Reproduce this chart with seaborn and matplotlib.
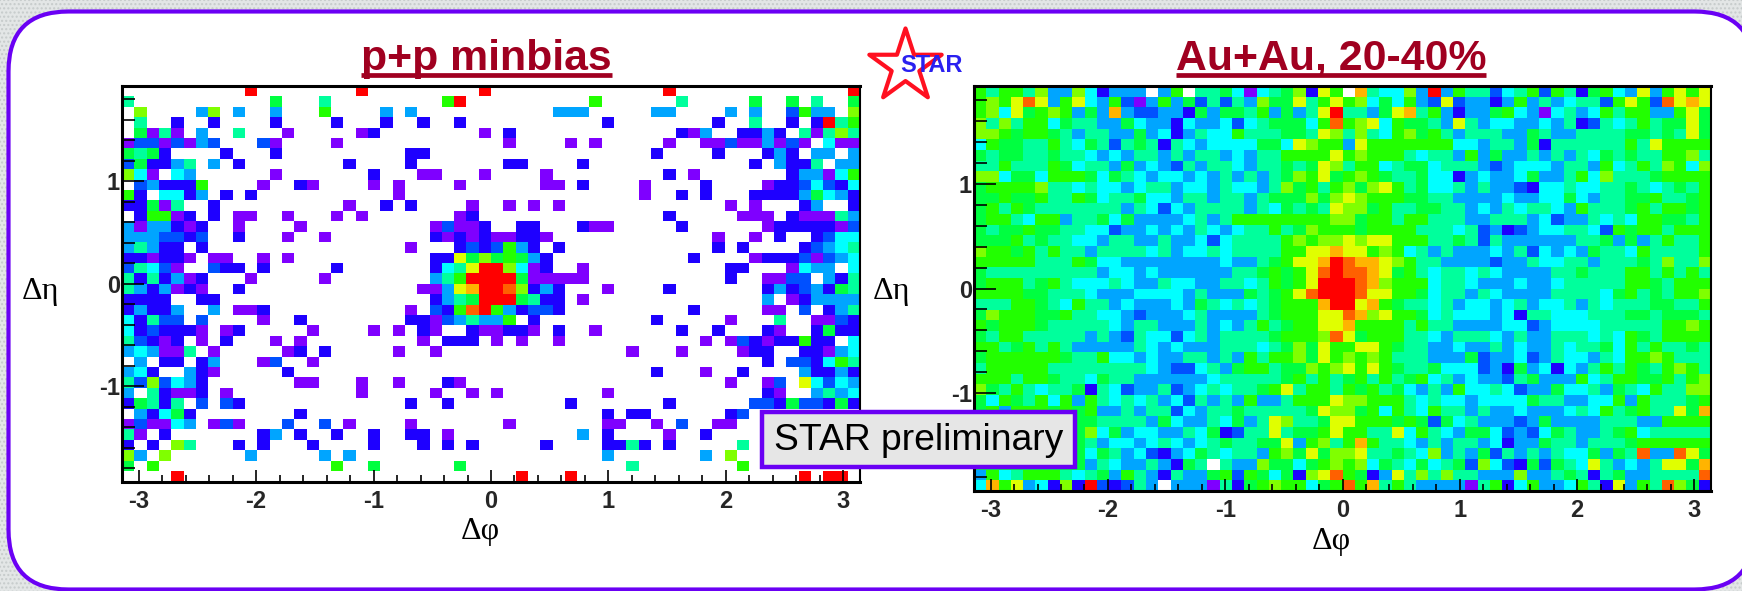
import numpy as np
import matplotlib
matplotlib.use("Agg")
import matplotlib.pyplot as plt
from matplotlib.colors import ListedColormap
from matplotlib.lines import Line2D
from matplotlib.patches import FancyBboxPatch, Rectangle
import seaborn as sns

sns.set_style("white")
plt.rcParams["font.family"] = ["Liberation Sans", "DejaVu Sans"]

# colour level of each bin, hex digit: 1 = lowest (purple) ... d = highest (red)
palette = ["#7F00FF", "#1E00FF", "#0050FF", "#00A5FF", "#00FFFF", "#00FF9C", "#00FF40",
           "#22FF00", "#80FF00", "#E0FF00", "#FFB400", "#FF6000", "#FF0000"]

phi_ticks = [-3, -2, -1, 0, 1, 2, 3]
phi_minor = [-3.0, -2.8, -2.6, -2.4, -2.2, -2.0, -1.8, -1.6, -1.4, -1.2, -1.0, -0.8, -0.6, -0.4, -0.2,
             0.0, 0.2, 0.4, 0.6, 0.8, 1.0, 1.2, 1.4, 1.6, 1.8, 2.0, 2.2, 2.4, 2.6, 2.8, 3.0]
eta_ticks = [1, 0, -1]
eta_minor = [1.8, 1.6, 1.4, 1.2, 1.0, 0.8, 0.6, 0.4, 0.2, 0.0, -0.2, -0.4, -0.6, -0.8, -1.0,
             -1.2, -1.4, -1.6, -1.8]
eta_limit = 1.93

# p+p: sparse, filled bins only, "column:level" for each row from the top
pp_rows = [
    "10:d 19:d 29:d 44:d 59:d",
    "0:6 12:7 16:6 26:8 27:d 38:8 45:6 51:7 54:7 56:6 59:7",
    "1:9 6:4 7:9 9:4 12:4 16:8 21:4 23:4 35:4 36:4 37:4 43:4 44:4 49:4 51:4 54:3 55:8 56:4 57:4 59:9",
    "1:6 4:2 7:2 12:2 17:2 21:2 24:2 27:2 39:2 48:2 51:6 54:2 56:2 57:d 58:6 59:8",
    "1:7 2:1 3:6 4:1 6:4 9:6 13:1 19:1 20:2 29:1 31:2 45:2 46:1 47:4 50:2 51:2 52:4 53:2 55:6 56:1 57:6 58:9 59:6",
    "0:1 1:3 2:3 3:1 4:3 5:1 6:4 7:3 11:3 12:1 17:1 31:1 36:1 38:1 44:1 47:1 48:1 49:3 50:1 51:1 52:4 53:1 54:3 55:1 57:5 58:1 59:1",
    "0:7 1:6 2:7 3:2 8:2 12:2 23:2 24:2 43:2 48:2 52:2 53:4 54:2 56:4 57:4 59:4",
    "0:3 1:7 2:2 3:2 4:4 5:6 7:4 9:2 18:2 23:2 31:2 32:2 37:2 51:2 53:4 54:2 55:2 56:6 58:4 59:4",
    "0:9 1:5 2:1 4:5 5:4 12:1 20:2 24:1 25:1 29:1 34:1 44:2 46:1 54:2 55:4 56:4 57:1 58:5 59:8",
    "1:3 2:4 3:2 4:2 5:2 6:8 11:1 14:2 15:1 20:1 22:1 27:1 34:1 35:1 37:2 42:1 47:2 52:1 53:2 54:2 55:3 56:5 57:3 58:2 59:5",
    "0:8 1:2 3:5 4:5 5:2 6:4 8:2 10:2 22:1 42:1 45:2 47:2 51:2 52:2 53:2 54:2 55:4 56:7 57:5 58:4 59:2",
    "0:2 1:2 2:7 3:1 4:6 7:2 18:1 21:2 23:2 28:1 31:1 33:1 35:1 49:1 51:1 55:2 56:4 59:2",
    "1:2 2:8 3:8 4:1 5:2 7:2 9:1 10:1 13:1 17:1 19:1 27:1 28:2 44:2 50:1 51:1 52:1 54:2 55:1 56:1 57:1 58:6 59:4",
    "0:4 1:1 2:4 3:4 4:2 5:1 6:2 9:1 14:1 25:1 26:3 27:1 28:1 29:2 32:2 33:2 37:2 38:1 39:1 45:2 52:1 53:2 54:2 55:2 56:2 57:2 58:1 59:3",
    "0:4 1:4 2:4 3:3 4:3 5:2 6:3 9:2 13:1 16:1 25:2 26:1 27:2 28:1 29:2 30:1 31:1 32:2 33:2 34:1 48:1 51:1 53:2 56:2 57:3 58:5 59:5",
    "0:4 1:6 2:4 3:2 4:2 6:2 23:1 27:2 28:3 29:2 30:3 31:8 32:4 33:2 35:2 48:2 50:2 55:2 56:3 57:4 58:5 59:6",
    "0:2 1:2 2:1 3:2 4:2 5:1 7:1 8:1 11:1 13:1 25:2 26:2 27:a 28:7 29:9 30:7 31:8 32:7 33:4 34:2 46:2 51:1 52:2 53:2 54:2 55:3 56:1 57:3 58:4 59:5",
    "0:3 1:6 2:5 3:3 4:1 7:3 8:2 9:2 11:2 17:2 25:2 26:5 27:6 28:a 29:d 30:d 31:9 32:5 33:1 34:2 37:1 49:2 50:2 54:1 55:5 56:4 57:4 59:5",
    "0:6 1:2 2:6 3:2 4:4 5:1 6:2 10:1 16:1 25:4 26:6 27:8 28:d 29:d 30:d 31:d 32:7 33:1 34:1 35:1 36:1 37:1 49:2 52:1 53:1 54:3 55:3 57:4 58:2 59:6",
    "0:6 1:4 2:2 3:4 4:1 5:2 6:1 9:2 24:1 25:1 26:4 27:a 28:b 29:d 30:d 31:c 32:9 33:2 34:4 35:2 39:1 44:2 52:2 53:4 54:2 55:3 56:4 57:2 58:7 59:6",
    "0:2 1:2 2:2 3:2 6:2 7:2 25:2 26:4 27:6 28:7 29:d 30:d 31:d 32:7 33:6 34:2 35:2 37:1 52:4 54:1 55:2 56:4 57:4 58:4 59:4",
    "0:2 1:4 2:2 3:2 4:4 7:4 9:1 10:1 11:2 23:1 25:3 26:2 27:8 28:c 29:d 30:8 31:4 32:2 33:3 34:3 35:2 46:2 52:1 53:1 55:3 57:2 58:4 59:6",
    "0:5 1:2 2:6 3:3 4:3 6:3 11:1 14:2 23:2 24:2 25:1 26:3 27:4 28:6 29:4 30:4 31:8 33:2 43:2 49:1 53:6 56:1 57:1 58:3 59:2",
    "0:5 1:2 2:3 3:2 4:2 5:2 6:1 8:1 9:2 15:1 20:1 22:1 24:2 25:1 28:2 29:1 30:1 31:2 32:2 33:1 35:2 38:1 45:2 48:2 52:2 53:1 56:2 57:7 58:2 59:2",
    "0:6 1:3 2:2 3:1 4:2 6:1 8:2 12:1 14:1 24:1 26:2 27:2 28:2 30:1 32:1 35:1 47:1 49:1 50:3 51:2 52:1 53:2 54:2 55:8 56:2 57:2 59:5",
    "0:4 1:5 2:4 3:1 4:1 5:6 7:1 13:1 14:2 16:2 22:1 25:1 41:1 45:1 50:1 51:2 52:2 55:2 56:2 57:1 58:4 59:5",
    "1:4 3:2 4:2 6:2 7:4 11:1 12:3 15:1 52:2 54:3 55:3 56:2 57:5 58:8 59:6",
    "0:4 1:5 2:2 5:4 6:2 7:1 13:2 43:2 47:1 50:2 55:4 56:2 57:2 58:4 59:2",
    "0:6 1:3 2:9 3:3 4:5 5:4 6:2 14:1 15:1 19:1 22:1 26:2 27:1 49:1 52:1 53:3 55:a 56:5 57:3 58:5 59:4",
    "0:4 2:6 3:2 4:1 5:1 6:2 8:1 19:1 25:1 28:1 30:1 39:1 52:2 53:1 56:4 57:6 58:4 59:5",
    "0:2 1:7 2:6 3:2 4:6 6:3 8:3 9:2 23:2 26:2 36:2 44:2 51:3 52:3 53:2 54:7 55:3 56:3 57:2 58:7 59:2",
    "1:4 2:2 3:5 4:7 5:2 14:2 39:2 41:2 42:2 49:2 50:3",
    "0:1 1:3 2:1 3:1 4:5 5:4 7:1 8:3 9:1 13:3 16:3 18:1 23:1 31:1 39:1 40:1 43:1 45:3 48:1 49:1",
    "0:6 1:1 3:2 11:2 12:4 14:2 17:2 20:2 23:2 24:2 26:1 37:4 39:2 44:1 47:2",
    "0:2 2:2 4:9 5:6 9:2 11:2 15:2 20:2 24:2 26:2 28:2 34:2 39:2 40:2 41:6 42:2 44:2 50:6",
    "0:9 1:4 3:9 10:4 16:4 18:4 39:4 47:4 49:9",
    "0:7 2:8 17:8 20:7 27:7 41:6 50:8",
    "4:d 32:d 36:d 55:d 57:d 58:d",
]

# Au+Au: dense, one digit per bin, 0 = empty bin
aa_rows = [
    "8 6 8 8 6 9 4 4 9 5 2 4 4 4 0 4 8 0 6 6 7 5 1 5 6 7 9 2 a 8 0 b 6 5 5 9 4 d 4 8 6 6 3 5 6 8 3 8 6 2 7 8 5 4 a 4 8 a 8 a",
    "8 9 8 a c a 4 8 a 5 4 8 3 1 4 8 4 7 3 6 3 6 4 9 7 7 a 6 8 a 8 9 5 7 5 8 4 3 a 3 4 4 2 4 8 4 6 4 5 6 6 3 8 a 8 3 c a b a",
    "8 9 5 a 7 8 9 8 4 7 4 b 4 3 3 4 4 2 7 4 7 7 6 8 4 7 4 6 a d 6 6 4 7 a b 6 8 4 2 4 4 7 8 5 4 1 5 6 4 5 8 6 8 8 4 4 8 a 7",
    "9 6 9 6 8 8 5 7 6 6 4 4 7 5 4 4 2 5 4 4 5 3 5 6 7 7 7 5 8 c 8 9 a 5 8 7 7 6 4 a 6 4 5 5 4 4 5 4 6 2 3 6 5 6 8 6 7 7 a 7",
    "9 9 8 7 8 8 7 6 4 6 6 4 4 7 4 5 2 4 6 5 5 8 6 6 6 7 7 6 a 9 6 9 6 5 8 9 7 8 6 4 6 6 6 4 4 7 6 4 4 6 6 6 6 7 7 6 7 6 a 7",
    "5 8 7 7 6 6 8 6 5 7 6 3 6 7 6 2 6 5 4 5 5 5 5 7 7 5 a 9 8 8 4 a 8 8 8 8 8 8 8 5 5 4 6 6 4 7 2 6 6 6 6 6 6 8 6 a 8 8 8 8",
    "7 6 7 7 6 6 7 6 6 5 4 5 4 6 6 4 6 4 6 6 4 5 4 6 6 8 8 8 8 a 8 9 8 8 8 6 5 6 6 4 8 4 7 4 4 6 4 6 4 6 5 7 6 7 6 6 8 8 9 6",
    "6 6 8 6 6 6 8 7 5 6 6 4 7 4 5 4 3 6 4 6 6 5 4 6 6 7 6 7 a 9 6 8 8 5 6 7 7 5 6 6 6 4 3 4 5 5 5 4 6 6 4 8 5 6 8 6 9 8 5 9",
    "9 9 5 7 7 5 8 8 8 7 5 7 6 5 4 5 5 4 5 4 6 4 6 4 6 7 9 8 a 7 8 9 8 7 6 6 7 5 5 2 4 5 4 4 5 7 4 4 6 8 5 9 6 6 6 7 8 8 8 8",
    "7 8 8 8 8 9 6 6 5 6 5 5 4 5 6 6 4 5 5 4 6 5 5 4 6 9 7 8 6 8 9 7 9 a 8 6 7 5 5 6 4 6 4 4 3 2 5 5 6 5 5 6 6 7 6 5 6 7 6 8",
    "7 7 8 7 7 8 6 6 8 7 5 6 6 7 5 5 4 6 6 4 6 6 4 6 7 7 7 9 7 9 a 9 8 8 8 7 7 6 6 4 4 4 4 5 4 4 5 5 7 5 4 6 6 7 7 8 6 6 7 8",
    "7 8 6 8 7 6 6 6 6 6 6 6 4 6 5 3 5 4 6 6 6 6 4 6 5 7 6 7 6 a 9 9 7 8 6 6 7 7 6 6 4 5 4 6 5 6 6 5 4 8 6 6 6 7 8 6 8 8 7 8",
    "7 8 8 6 5 8 8 4 6 6 7 5 7 4 4 4 4 5 6 4 6 8 8 8 8 8 8 8 8 9 9 7 8 8 6 8 8 6 6 6 4 4 6 6 6 4 5 3 4 4 6 5 6 5 8 8 7 7 6 8",
    "7 6 7 7 8 7 7 6 6 5 5 3 4 4 5 4 5 4 6 5 4 5 6 6 8 6 7 9 8 8 8 7 8 8 8 8 6 6 6 5 6 3 4 2 3 4 5 5 6 6 5 3 8 7 8 8 6 8 8 8",
    "7 7 7 8 6 7 6 6 5 5 4 6 6 4 4 6 4 4 5 3 5 6 6 6 6 8 9 8 9 9 a 9 a a 8 8 8 6 6 7 6 3 6 4 4 4 4 4 4 6 6 7 4 7 4 6 8 6 6 8",
    "9 8 8 7 8 6 8 6 6 4 6 6 6 6 5 6 4 5 5 6 5 6 6 6 6 8 8 a a b a a 8 9 8 5 6 4 6 4 4 4 5 4 6 3 5 4 5 4 7 6 6 5 8 6 6 6 6 8",
    "8 8 8 8 8 6 6 6 8 7 5 5 4 4 4 4 4 4 4 4 5 4 4 6 7 8 a a b d c b b a 9 8 6 6 4 4 4 4 3 4 4 6 5 5 6 6 4 6 6 6 7 6 9 6 6 9",
    "7 6 6 6 6 6 6 6 6 6 4 5 5 4 5 4 4 4 4 4 4 6 6 7 8 7 8 a c d c c b a 7 8 6 5 6 6 5 6 5 4 4 4 4 6 6 7 6 6 6 8 8 6 8 6 8 6",
    "7 8 8 8 6 7 8 6 5 5 5 6 5 4 4 6 5 5 4 4 6 6 5 6 8 7 8 a d d d c b 9 8 8 8 5 6 6 5 4 4 4 5 4 4 5 6 6 6 6 6 8 8 7 6 8 8 8",
    "8 8 8 8 7 7 6 6 6 5 4 4 4 5 5 5 5 4 6 4 4 4 7 6 7 8 a c d d d c a a 8 8 7 5 6 6 4 6 5 4 4 4 4 6 6 6 6 5 7 8 6 7 6 8 8 9",
    "6 6 6 8 8 7 6 5 8 6 6 4 5 4 4 4 5 4 7 6 5 6 5 6 7 8 8 8 b d d a b 8 7 6 6 5 6 4 5 5 4 5 6 4 5 5 6 4 6 5 6 6 6 7 7 6 6 8",
    "7 9 8 8 8 7 7 8 6 6 5 5 4 3 4 4 4 5 6 4 4 4 4 6 7 8 8 8 a a c b 9 a 8 8 7 5 6 5 5 5 4 5 2 6 6 5 5 5 6 6 6 7 7 6 7 7 7 6",
    "8 7 8 8 8 7 6 6 6 6 6 5 4 6 6 4 4 4 6 4 5 4 6 8 6 7 8 8 a a b 8 8 8 8 6 8 6 6 4 4 4 4 5 5 3 4 5 5 5 5 6 6 6 6 6 8 8 9 8",
    "7 6 8 8 6 6 6 6 6 4 6 4 3 6 5 5 3 5 6 4 6 6 6 6 7 8 8 8 9 c a 7 8 8 8 6 6 5 4 6 6 6 5 4 6 4 4 6 6 6 5 6 5 8 7 6 8 8 8 8",
    "8 8 6 7 8 6 8 6 4 4 4 4 4 6 5 4 5 4 4 4 6 6 6 5 6 7 9 7 a 8 8 a a 8 7 6 6 4 4 5 4 4 6 4 5 4 4 6 5 6 6 7 5 8 6 8 6 6 7 6",
    "7 8 8 8 8 8 8 7 6 6 8 5 5 4 5 4 4 6 6 4 6 4 8 6 8 8 9 7 a 8 9 8 9 8 6 6 6 4 4 4 7 3 4 4 5 3 4 6 5 5 4 6 5 8 8 9 8 6 6 6",
    "6 8 8 8 8 8 6 6 6 6 6 6 6 6 5 4 3 3 5 6 4 7 8 8 6 7 7 9 8 9 a 8 a 8 7 6 6 7 5 5 5 3 4 2 7 4 5 2 5 4 6 8 6 8 7 6 8 9 8 6",
    "8 8 8 6 8 8 7 6 6 5 7 6 6 4 4 4 4 4 4 5 6 6 6 6 6 7 8 6 8 6 7 8 6 8 6 7 8 5 6 4 5 4 4 3 6 7 4 4 4 8 5 6 8 8 7 7 8 6 8 9",
    "9 7 6 8 6 5 6 6 7 2 6 5 3 4 4 6 3 4 5 6 5 6 6 7 8 a 6 8 8 6 8 7 8 6 7 5 4 6 4 8 5 5 6 5 3 4 4 7 5 5 6 4 7 6 5 8 6 6 9 9",
    "7 5 8 7 6 8 5 8 4 8 6 5 6 5 6 4 5 3 6 4 6 4 8 4 4 6 8 8 8 a 9 9 8 8 8 6 5 6 5 5 4 5 5 5 5 7 6 6 4 4 5 5 8 4 8 6 6 6 7 8",
    "7 8 4 8 8 8 7 8 7 8 4 4 6 4 6 6 3 5 4 6 6 7 6 6 6 6 6 7 a 9 9 7 8 5 8 6 5 8 6 6 4 6 4 4 5 4 4 4 5 6 5 8 6 7 8 6 6 a 7 b",
    "7 7 7 7 7 7 7 7 7 7 6 6 6 6 4 7 5 4 4 6 5 7 4 6 a 9 6 6 7 a a 8 8 8 7 8 7 3 7 5 6 4 4 4 3 4 7 4 4 4 4 6 6 6 4 4 8 8 8 8",
    "7 7 7 7 7 7 7 7 7 9 5 7 4 5 5 4 4 6 5 7 2 3 6 6 a 6 7 7 8 a 8 8 6 6 a 5 8 6 5 4 7 7 5 3 4 3 5 7 6 4 4 6 7 8 5 6 6 6 6 6",
    "7 7 7 7 7 7 7 7 7 6 4 5 5 4 5 6 5 4 5 6 7 6 6 7 7 a 4 8 9 6 8 b 8 6 6 5 4 6 4 6 6 4 5 2 4 4 7 6 6 4 6 6 6 7 8 8 8 8 8 8",
    "7 7 7 7 7 7 7 7 7 5 7 6 4 5 3 2 4 5 7 6 5 6 6 4 8 9 7 a 7 9 9 a 6 6 7 6 5 9 4 6 4 7 3 6 4 6 4 6 5 5 7 4 7 6 c 4 4 c a 7",
    "7 7 7 7 7 7 7 7 7 4 6 5 4 4 6 4 2 7 6 0 6 4 4 9 7 7 5 7 8 9 8 9 5 7 6 5 7 5 6 7 3 9 5 3 2 7 3 7 6 5 a 6 4 5 4 6 a a 7 b",
    "4 8 5 6 8 8 8 6 5 6 7 4 8 6 4 2 6 4 4 7 8 3 8 7 5 7 2 9 a c 8 7 2 4 a 6 9 6 9 6 6 4 4 4 9 4 4 6 7 6 2 6 7 4 4 6 6 6 6 c",
    "5 b 8 a 4 5 2 9 2 d 3 2 3 6 4 0 4 4 4 1 6 2 7 8 9 8 8 5 7 8 c 8 b 6 8 6 4 4 4 4 1 6 8 2 5 8 4 4 5 8 6 2 a 4 8 6 c 9 7 2",
]

W, H = 1742, 591
N_COLS, N_ROWS = 60, 38
slide_purple = "#6A00F4"
title_red = "#A00020"


def pp_grid():
    grid = np.zeros((N_ROWS, N_COLS), dtype=int)
    for r, row in enumerate(pp_rows):
        for cell in row.split():
            col, level = cell.split(":")
            grid[r, int(col)] = int(level, 16)
    return grid


def aa_grid():
    grid = np.zeros((N_ROWS, N_COLS), dtype=int)
    for r, row in enumerate(aa_rows):
        vals = [int(c, 16) for c in row.split()]
        grid[r, :len(vals)] = vals[:N_COLS]
    return grid


def panel(fig, grid, box):
    x0, y0, x1, y1 = box
    ax = fig.add_axes([x0 / W, 1 - y1 / H, (x1 - x0) / W, (y1 - y0) / H], zorder=2)
    sns.heatmap(grid, mask=grid == 0, cmap=ListedColormap(palette), vmin=0.5, vmax=13.5,
                cbar=False, xticklabels=False, yticklabels=False, ax=ax)
    # the heatmap counts in bins, the axes are labelled in radians and eta
    to_col = lambda v: (np.asarray(v) + np.pi) / (2 * np.pi) * N_COLS
    to_row = lambda v: (eta_limit - np.asarray(v)) / (2 * eta_limit) * N_ROWS
    ax.set_xticks(to_col(phi_ticks))
    ax.set_xticklabels([str(v) for v in phi_ticks], fontsize=17, fontweight="bold")
    ax.set_xticks(to_col(phi_minor), minor=True)
    ax.set_yticks(to_row(eta_ticks))
    ax.set_yticklabels([str(v) for v in eta_ticks], fontsize=17, fontweight="bold", rotation=0)
    ax.set_yticks(to_row(eta_minor), minor=True)
    ax.set_axisbelow(False)
    ax.tick_params(axis="x", which="major", bottom=True, direction="in", length=9, width=1.2, pad=6, color="black")
    ax.tick_params(axis="x", which="minor", bottom=True, direction="in", length=5, width=1.2, color="black")
    ax.tick_params(axis="y", which="major", left=True, direction="in", length=16, width=1.2, pad=1.5, color="black")
    ax.tick_params(axis="y", which="minor", left=True, direction="in", length=9, width=1.2, color="black")
    for spine in ax.spines.values():
        spine.set_visible(True)
        spine.set_linewidth(2.2)
        spine.set_color("black")
    ax.spines["right"].set_linewidth(1.5)
    return ax


fig = plt.figure(figsize=(W / 100, H / 100), dpi=100)

# background: grey dotted page behind a rounded white slide
bg = fig.add_axes([0, 0, 1, 1], zorder=0)
bg.set_xlim(0, W)
bg.set_ylim(H, 0)
bg.axis("off")
bg.add_patch(Rectangle((0, 0), W, H, facecolor="#E3E6E6", edgecolor="#C6CBCB", hatch="....", linewidth=0))
bg.add_patch(FancyBboxPatch((8.5, 11.5), 1746, 578, boxstyle="round,pad=0,rounding_size=60",
                            facecolor="white", edgecolor=slide_purple, linewidth=3))

panel(fig, pp_grid(), (122, 86, 860, 481.5))
panel(fig, aa_grid(), (974, 86, 1711, 491))

# titles, axis names, logo and label box sit on top, in pixel coordinates
fg = fig.add_axes([0, 0, 1, 1], zorder=3)
fg.set_xlim(0, W)
fg.set_ylim(H, 0)
fg.axis("off")

fg.text(486.5, 70, "p+p minbias", fontsize=30.8, fontweight="bold", color=title_red, ha="center", va="baseline")
fg.text(1331, 70, "Au+Au, 20-40%", fontsize=30.8, fontweight="bold", color=title_red, ha="center", va="baseline")
fg.add_line(Line2D([361, 612], [75, 75], color=title_red, linewidth=3.4, solid_capstyle="butt"))
fg.add_line(Line2D([1176, 1486], [75, 75], color=title_red, linewidth=3.4, solid_capstyle="butt"))

for x, y, label in [(40, 292, "Δη"), (891, 292, "Δη"), (480, 531, "Δφ"), (1331, 541, "Δφ")]:
    fg.text(x, y, label, fontsize=23, family=["Liberation Serif", "DejaVu Serif"], ha="center", va="center", color="black")

fg.scatter([905], [66], marker="*", s=3000, facecolor="white", edgecolor="#FF1020", linewidth=3)
fg.text(931, 66, "STAR", fontsize=17, fontweight="bold", color="#2A20F0", ha="center", va="center")

fg.add_patch(Rectangle((762, 412), 313, 55, facecolor="#E6E6E6", edgecolor=slide_purple, linewidth=3.2))
fg.text(918.5, 441, "STAR preliminary", fontsize=26.8, color="black", ha="center", va="center")

fig.savefig("out.png", dpi=100)
